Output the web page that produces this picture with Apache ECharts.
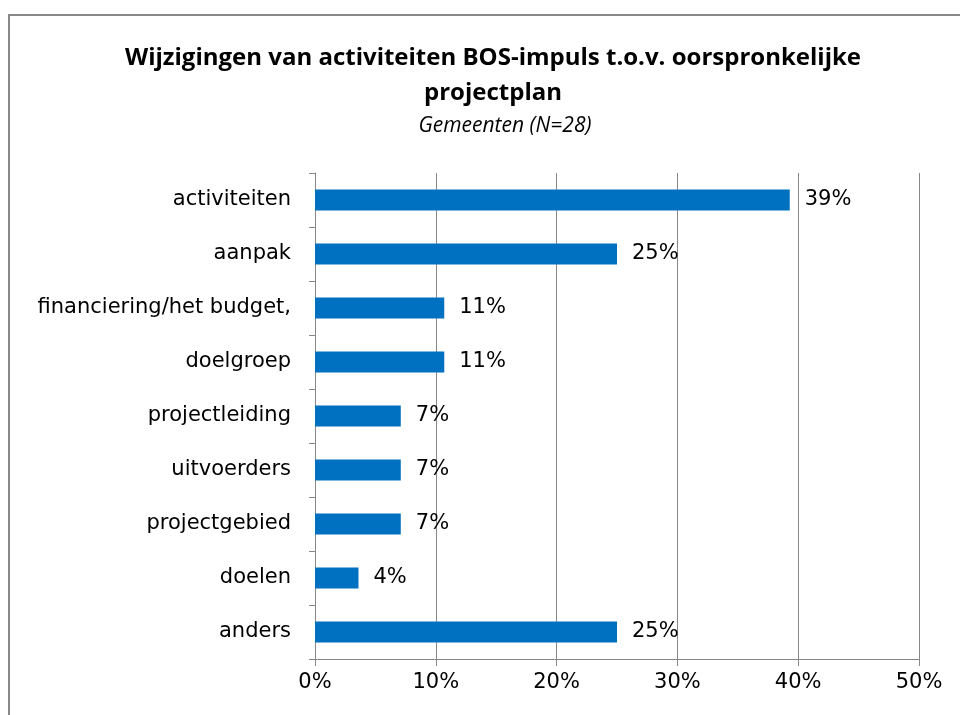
<!DOCTYPE html>
<html>
<head>
<meta charset="utf-8">
<script src="https://cdn.jsdelivr.net/npm/echarts@6/dist/echarts.min.js"></script>
<style>
  html, body { margin: 0; padding: 0; background: #fff; }
  #main { width: 960px; height: 715px; }
</style>
</head>
<body>
<div id="main"></div>
<script>
// categories top to bottom
const categories = [
  "activiteiten",
  "aanpak",
  "financiering/het budget,",
  "doelgroep",
  "projectleiding",
  "uitvoerders",
  "projectgebied",
  "doelen",
  "anders"
];
// percentage of gemeenten (N=28)
const values = [39.3, 25.0, 10.7, 10.7, 7.1, 7.1, 7.1, 3.6, 25.0];
const ticks = [0, 10, 20, 30, 40, 50];

const font = "'DejaVu Sans', sans-serif";
const chart = echarts.init(document.getElementById("main"));

const option = {
  animation: false,
  backgroundColor: "#fff",
  graphic: [
    {
      type: "rect",
      shape: { x: 9, y: 15, width: 980, height: 740 },
      style: { fill: "none", stroke: "#888", lineWidth: 2 },
      silent: true
    }
  ],
  title: [
    {
      text: "Wijzigingen van activiteiten BOS-impuls t.o.v. oorspronkelijke\nprojectplan",
      left: 488,
      top: 36,
      textAlign: "center",
      textStyle: {
        fontFamily: "'Open Sans', sans-serif",
        fontWeight: "bold",
        fontSize: 24,
        lineHeight: 35,
        color: "#000"
      }
    },
    {
      text: "Gemeenten (N=28)",
      left: 500,
      top: 111,
      textAlign: "center",
      textStyle: {
        fontFamily: "'Open Sans', sans-serif",
        fontStyle: "italic",
        fontWeight: "normal",
        fontSize: 21,
        color: "#000"
      }
    }
  ],
  grid: { left: 315, right: 41, top: 173, bottom: 56, containLabel: false },
  xAxis: {
    type: "value",
    min: ticks[0],
    max: ticks[ticks.length - 1],
    interval: 10,
    axisLine: { show: true, lineStyle: { color: "#888", width: 1 } },
    axisTick: { show: true, length: 7, lineStyle: { color: "#888" } },
    splitLine: { show: true, lineStyle: { color: "#888", width: 1 } },
    axisLabel: {
      formatter: "{value}%",
      fontFamily: font,
      fontSize: 21,
      color: "#000",
      margin: 13
    }
  },
  yAxis: {
    type: "category",
    data: categories,
    inverse: true,
    axisLine: { show: true, lineStyle: { color: "#888", width: 1 } },
    axisTick: { show: true, length: 6, lineStyle: { color: "#888" } },
    axisLabel: {
      fontFamily: font,
      fontSize: 21,
      color: "#000",
      margin: 24
    }
  },
  series: [
    {
      type: "bar",
      data: values,
      barWidth: 21,
      itemStyle: { color: "#0070C0" },
      label: {
        show: true,
        position: "right",
        distance: 15,
        fontFamily: font,
        fontSize: 21,
        color: "#000",
        formatter: function (p) { return Math.round(p.value) + "%"; }
      }
    }
  ]
};

chart.setOption(option);
</script>
</body>
</html>
